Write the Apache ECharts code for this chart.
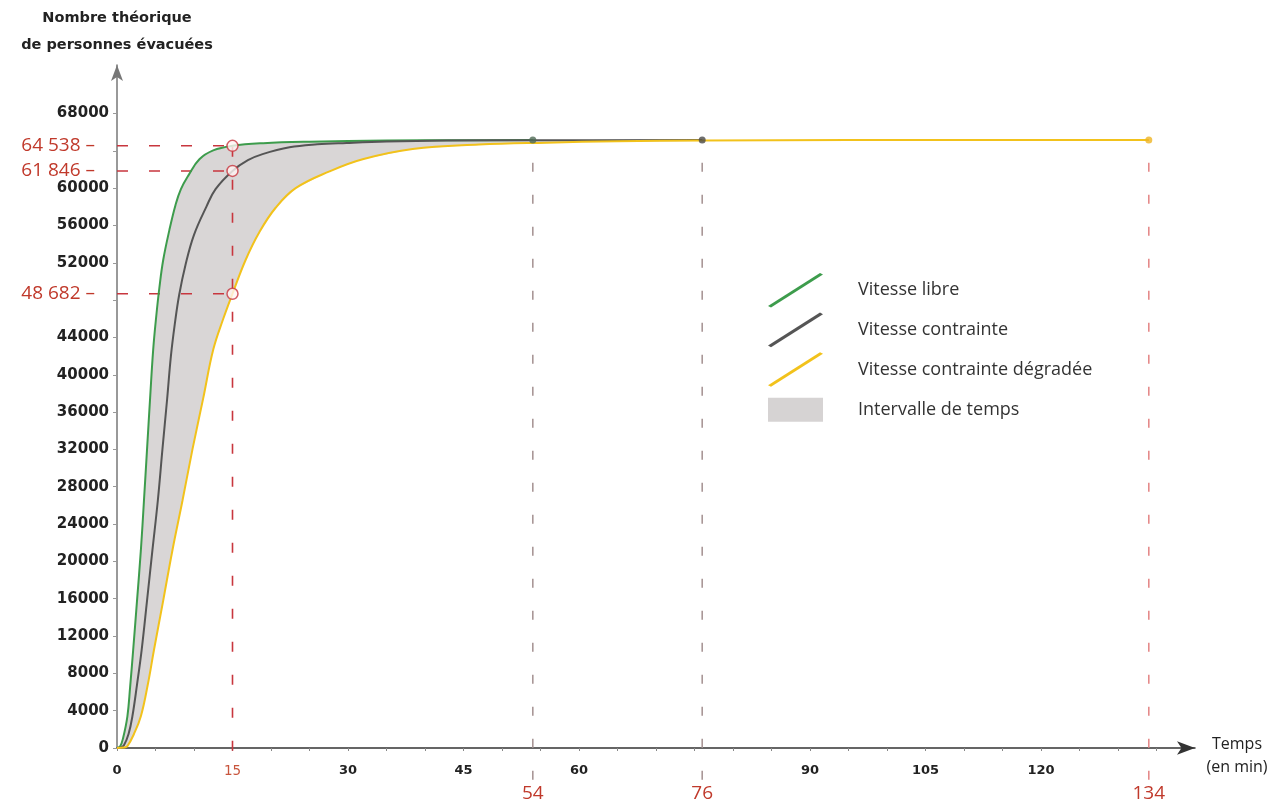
<!DOCTYPE html>
<html><head><meta charset="utf-8">
<script src="https://cdn.jsdelivr.net/npm/echarts@6/dist/echarts.min.js"></script>
<style>html,body{margin:0;padding:0;background:#fff}#c{width:1277px;height:807px}</style>
</head><body><div id="c"></div>
<script>
// ---- data (minutes, number of people evacuated) ----
const libre = [[0,0],[0.4,150],[0.8,1100],[1.35,3400],[1.7,6500],[2.1,10500],[2.6,15800],[3.1,21200],[3.5,26500],[3.9,32000],[4.3,37500],[4.7,42700],[5.1,46300],[5.5,49300],[6.0,52300],[6.8,55500],[7.6,58200],[8.3,59900],[9.3,61400],[10.7,63100],[12.5,64050],[15,64538],[19,64820],[25,64980],[35,65100],[45,65140],[54,65150]];
const contrainte = [[0,0],[0.5,50],[0.9,300],[1.5,1500],[2.0,3400],[2.6,6800],[3.2,10500],[3.9,15800],[4.6,21200],[5.3,26500],[5.9,32000],[6.5,37300],[7.0,42000],[7.5,45400],[8.06,48500],[8.9,51800],[10,55000],[11.6,58000],[12.8,59900],[15,61846],[17,63000],[18.9,63650],[22.4,64380],[26,64700],[29.8,64850],[35,65000],[42.8,65100],[55,65140],[76,65150]];
const degradee = [[0,0],[0.9,50],[1.35,200],[2.2,1500],[3.1,3400],[4.0,6800],[4.8,10500],[6.0,15800],[7.2,21200],[8.5,26500],[9.8,32000],[11.2,37500],[12.5,42700],[13.8,46000],[15,48682],[16.7,52300],[18.5,55300],[20.6,57900],[23.2,60000],[27.6,61800],[31.9,63100],[38.4,64200],[47,64670],[55.8,64880],[65,65030],[76,65120],[95,65150],[134,65150]];
const refTime = 15;
const refValues = [64538, 61846, 48682];
const endTimes = [54, 76, 134];
const xTicks = [0,5,10,15,20,25,30,35,40,45,50,55,60,65,70,75,80,85,90,95,100,105,110,115,120,125,130,135];
const xLabels = [0,15,30,45,54,60,76,90,105,120,134];
const yTicks = [0,4000,8000,12000,16000,20000,24000,28000,32000,36000,40000,44000,48000,52000,56000,60000,64000,68000];
const yLabels = [0,4000,8000,12000,16000,20000,24000,28000,32000,36000,40000,44000,48682,52000,56000,60000,61846,64538,68000];
const seriesNames = ['Vitesse libre','Vitesse contrainte','Vitesse contrainte dégradée','Intervalle de temps'];

const RED = '#c0392b';
const chart = echarts.init(document.getElementById('c'));
const fmtSpace = v => String(v).replace(/\B(?=(\d{3})+(?!\d))/g, ' ');
const diag = 'path://M0,33 L52,0 L55,1.6 L3,34.6 Z';
const rectIcon = 'path://M0,0 L0.01,0 L0,0.01 Z M0,6 L55,6 L55,30 L0,30 Z M55,36 L54.99,36 L55,35.99 Z';

function lineBetween(a, b, color, dash, z) {
  return {type:'line', data:[a,b], symbol:'none', silent:true, clip:false, z:z||3,
    lineStyle:{color:color, width:1.6, type:dash}, animation:false};
}

const series = [];
// band between libre and dégradée
series.push({
  type:'custom', name:seriesNames[3], z:1, silent:true, animation:false,
  itemStyle:{color:'#d9d6d6'},
  data:[[0,0]],
  renderItem:function(params, api){
    const lastC = contrainte[contrainte.length-1];
    const upper = libre.concat([lastC]);
    const lower = degradee.filter(p => p[0] <= lastC[0]).slice().reverse();
    const pts = upper.concat(lower).map(p => api.coord(p));
    return {type:'polygon', shape:{points:pts}, style:{fill:'#d9d6d6'}};
  }
});
// red reference lines
refValues.forEach(v => series.push(lineBetween([0,v],[refTime,v], '#c8363e', [11,21], 3)));
series.push(lineBetween([refTime,-300],[refTime,refValues[0]], '#c8363e', [10,23], 3));
// vertical end lines
series.push(lineBetween([endTimes[0],-3400],[endTimes[0],libre[libre.length-1][1]], '#a99797', [9,23], 3));
series.push(lineBetween([endTimes[1],-3400],[endTimes[1],contrainte[contrainte.length-1][1]], '#a99797', [9,23], 3));
series.push(lineBetween([endTimes[2],-3400],[endTimes[2],degradee[degradee.length-1][1]], '#e58a8a', [9,23], 3));
// curves
const curves = [[libre,'#3d9c4c'],[contrainte,'#555555'],[degradee,'#f2c21b']];
curves.forEach((c,i) => series.push({
  type:'line', name:seriesNames[i], data:c[0], symbol:'none', smooth:0.4, z:5,
  lineStyle:{color:c[1], width:2}, itemStyle:{color:c[1]}, animation:false
}));
// end points
series.push({type:'scatter', silent:true, z:6, symbolSize:7, animation:false,
  data:[
    {value:libre[libre.length-1], itemStyle:{color:'#4f6a55'}},
    {value:contrainte[contrainte.length-1], itemStyle:{color:'#4a4a4a'}},
    {value:degradee[degradee.length-1], itemStyle:{color:'#efb423'}}
  ]});
// circles at t=15
series.push({type:'scatter', silent:true, z:7, symbolSize:11, animation:false,
  itemStyle:{color:'#fff4f2', borderColor:'#c8363e', borderWidth:1.5},
  data:refValues.map(v => [refTime, v])});

chart.setOption({
  backgroundColor:'#ffffff',
  animation:false,
  grid:{left:117, right:82, top:65, bottom:59, containLabel:false},
  legend:{
    orient:'vertical', left:763, top:268, itemWidth:55, itemHeight:36, itemGap:5,
    selectedMode:false,
    textStyle:{fontFamily:'Open Sans', fontSize:18, color:'#333', padding:[0,0,0,30]},
    data:[
      {name:seriesNames[0], icon:diag, itemStyle:{color:'#3d9c4c'}},
      {name:seriesNames[1], icon:diag, itemStyle:{color:'#555555'}},
      {name:seriesNames[2], icon:diag, itemStyle:{color:'#f2c21b'}},
      {name:seriesNames[3], icon:rectIcon, itemStyle:{color:'#d6d3d3'}}
    ]
  },
  xAxis:{
    type:'value', min:0, max:140, interval:5,
    name:'{s| }\n{t|Temps}\n{t|(en min)}', nameLocation:'end', nameGap:42,
    nameTextStyle:{align:'center', verticalAlign:'middle',
      rich:{
        s:{fontSize:10, lineHeight:16},
        t:{fontFamily:'Open Sans', fontSize:16, color:'#222', lineHeight:23}
      }},
    axisLine:{show:true, onZero:false, symbol:['none','arrow'], symbolSize:[10,18], lineStyle:{color:'#333', width:1.5}},
    axisTick:{show:true, length:3, customValues:xTicks, lineStyle:{color:'#888'}},
    splitLine:{show:false},
    axisLabel:{
      customValues:xLabels, margin:16,
      formatter:function(v){
        if (v === refTime) return '{r1|' + v + '}';
        if (endTimes.indexOf(v) >= 0) return '{r2|' + v + '}';
        return '{b|' + v + '}';
      },
      rich:{
        b:{fontFamily:'DejaVu Sans', fontWeight:'bold', fontSize:13, color:'#222'},
        r1:{fontFamily:'DejaVu Sans', fontSize:13.5, color:'#c8553d'},
        r2:{fontFamily:'Open Sans', fontSize:19, color:RED, padding:[20,0,0,0]}
      }
    }
  },
  yAxis:{
    type:'value', min:0, max:73200, interval:4000,
    name:'Nombre théorique\nde personnes évacuées', nameLocation:'end', nameGap:6,
    nameTextStyle:{fontFamily:'DejaVu Sans', fontWeight:'bold', fontSize:14.5, color:'#222', align:'center', verticalAlign:'bottom', lineHeight:27},
    axisLine:{show:true, symbol:['none','arrow'], symbolSize:[9,16], lineStyle:{color:'#777', width:1.5}},
    axisTick:{show:true, length:4, customValues:yTicks, lineStyle:{color:'#999'}},
    splitLine:{show:false},
    axisLabel:{
      customValues:yLabels, margin:8,
      formatter:function(v){
        if (refValues.indexOf(v) >= 0) return '{r|' + fmtSpace(v) + ' –}';
        return '{b|' + v + '}';
      },
      rich:{
        b:{fontFamily:'DejaVu Sans', fontWeight:'bold', fontSize:15, color:'#222'},
        r:{fontFamily:'Open Sans', fontSize:19, color:RED, padding:[0,14,0,0]}
      }
    }
  },
  series:series
});
</script>
</body></html>
